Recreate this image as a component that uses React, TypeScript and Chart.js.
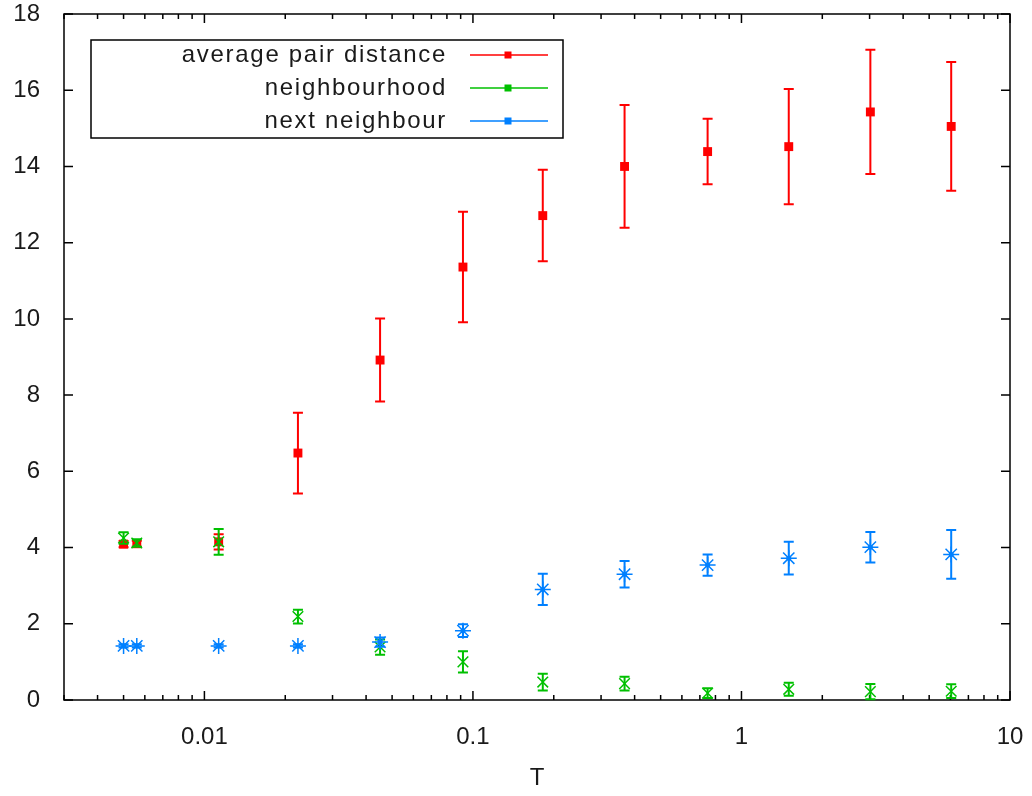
import React, { useEffect, useRef } from 'react';
import { Chart, registerables } from 'chart.js';

Chart.register(...registerables);

// ---- data ----
const T = [0.005, 0.0056, 0.0113, 0.0223, 0.0451, 0.0918, 0.182, 0.367, 0.748, 1.5, 3.02, 6.04];

const avgPair = [4.09, 4.1, 4.15, 6.48, 8.92, 11.36, 12.71, 14.0, 14.39, 14.52, 15.43, 15.05];
const avgPairErr = [0.08, 0.08, 0.2, 1.06, 1.09, 1.45, 1.2, 1.61, 0.86, 1.51, 1.63, 1.69];

const neighbourhood = [4.25, 4.12, 4.15, 2.19, 1.39, 1.0, 0.47, 0.43, 0.18, 0.28, 0.22, 0.23];
const neighbourhoodErr = [0.15, 0.1, 0.34, 0.18, 0.2, 0.28, 0.22, 0.18, 0.13, 0.17, 0.2, 0.18];

const nextNeighbour = [1.42, 1.42, 1.42, 1.42, 1.52, 1.82, 2.9, 3.3, 3.54, 3.72, 4.01, 3.82];
const nextNeighbourErr = [0.04, 0.04, 0.04, 0.04, 0.12, 0.17, 0.41, 0.35, 0.28, 0.43, 0.4, 0.64];

const seriesNames = ['average pair distance', 'neighbourhood', 'next neighbour'];
const seriesColors = ['#ff0000', '#00c000', '#0080ff'];

const xTickValues = [0.01, 0.1, 1, 10];
const xTickLabels = ['0.01', '0.1', '1', '10'];
const xTitle = 'T';

const FONT_FAMILY = 'Liberation Sans';
const FONT_SIZE = 24;

const ERRS = [avgPairErr, neighbourhoodErr, nextNeighbourErr];

export default function App() {
  const ref = useRef<HTMLCanvasElement>(null);

  useEffect(() => {
    if (!ref.current) return;

    const errorBars = {
      id: 'errorBars',
      afterDatasetDraw(chart: any, args: any) {
        const i = args.index;
        const errs = ERRS[i];
        const ds = chart.data.datasets[i];
        const xs = chart.scales.x;
        const ys = chart.scales.y;
        const ctx = chart.ctx;
        ctx.save();
        ctx.strokeStyle = seriesColors[i];
        ctx.fillStyle = seriesColors[i];
        ctx.lineWidth = 2;
        const cap = 5;
        ds.data.forEach((p: any, k: number) => {
          const px = xs.getPixelForValue(p.x);
          const py = ys.getPixelForValue(p.y);
          const y1 = ys.getPixelForValue(p.y - errs[k]);
          const y2 = ys.getPixelForValue(p.y + errs[k]);
          ctx.beginPath();
          ctx.moveTo(px, y1);
          ctx.lineTo(px, y2);
          ctx.moveTo(px - cap, y1);
          ctx.lineTo(px + cap, y1);
          ctx.moveTo(px - cap, y2);
          ctx.lineTo(px + cap, y2);
          ctx.stroke();
          if (i === 2) {
            ctx.beginPath();
            ctx.arc(px, py, 2.5, 0, Math.PI * 2);
            ctx.fill();
          }
        });
        ctx.restore();
      },
    };

    const frame = {
      id: 'frame',
      beforeDatasetsDraw(chart: any) {
        const { ctx, chartArea: a } = chart;
        const xs = chart.scales.x;
        const ys = chart.scales.y;
        ctx.save();
        ctx.strokeStyle = '#000';
        ctx.lineWidth = 1.5;
        ctx.strokeRect(a.left, a.top, a.right - a.left, a.bottom - a.top);
        ctx.beginPath();
        ys.ticks.forEach((t: any) => {
          const py = ys.getPixelForValue(t.value);
          ctx.moveTo(a.left, py);
          ctx.lineTo(a.left + 9, py);
          ctx.moveTo(a.right, py);
          ctx.lineTo(a.right - 9, py);
        });
        for (let e = -3; e <= 1; e++) {
          for (let m = 1; m <= 9; m++) {
            const v = m * Math.pow(10, e);
            if (v < xs.min * 0.999 || v > xs.max * 1.001) continue;
            const px = xs.getPixelForValue(v);
            const len = m === 1 ? 9 : 5;
            ctx.moveTo(px, a.bottom);
            ctx.lineTo(px, a.bottom - len);
            ctx.moveTo(px, a.top);
            ctx.lineTo(px, a.top + len);
          }
        }
        ctx.stroke();
        ctx.restore();
      },
    };

    const legendBox = {
      id: 'legendBox',
      afterDraw(chart: any) {
        const ctx = chart.ctx;
        const a = chart.chartArea;
        const left = a.left + 27;
        const top = a.top + 26;
        const w = 472;
        const h = 98;
        ctx.save();
        ctx.fillStyle = '#fff';
        ctx.fillRect(left, top, w, h);
        ctx.strokeStyle = '#000';
        ctx.lineWidth = 1.5;
        ctx.strokeRect(left, top, w, h);
        ctx.font = `${FONT_SIZE}px "${FONT_FAMILY}"`;
        (ctx as any).letterSpacing = '1.7px';
        ctx.textAlign = 'right';
        ctx.textBaseline = 'middle';
        seriesNames.forEach((name, i) => {
          const cy = top + 15 + i * 33;
          ctx.fillStyle = '#1a1a1a';
          ctx.fillText(name, left + 356, cy);
          ctx.strokeStyle = seriesColors[i];
          ctx.lineWidth = 1.5;
          ctx.beginPath();
          ctx.moveTo(left + 379, cy);
          ctx.lineTo(left + 457, cy);
          ctx.stroke();
          ctx.fillStyle = seriesColors[i];
          ctx.fillRect(left + 417 - 3.5, cy - 3.5, 7, 7);
        });
        ctx.restore();
      },
    };

    const mk = (vals: number[]) => vals.map((v, k) => ({ x: T[k], y: v }));

    const chart = new Chart(ref.current, {
      type: 'scatter',
      data: {
        datasets: [
          {
            label: seriesNames[0],
            data: mk(avgPair),
            pointStyle: 'rect',
            pointRadius: 6.3,
            backgroundColor: seriesColors[0],
            borderColor: seriesColors[0],
            borderWidth: 0,
            showLine: false,
            order: 3,
          },
          {
            label: seriesNames[1],
            data: mk(neighbourhood),
            pointStyle: 'crossRot',
            pointRadius: 7.5,
            backgroundColor: seriesColors[1],
            borderColor: seriesColors[1],
            borderWidth: 1.5,
            showLine: false,
            order: 2,
          },
          {
            label: seriesNames[2],
            data: mk(nextNeighbour),
            pointStyle: 'star',
            pointRadius: 8,
            backgroundColor: seriesColors[2],
            borderColor: seriesColors[2],
            borderWidth: 1.5,
            showLine: false,
            order: 1,
          },
        ] as any,
      },
      options: {
        animation: false,
        responsive: true,
        maintainAspectRatio: false,
        layout: { padding: { left: 0, right: 22, top: 14, bottom: 0 } },
        plugins: { legend: { display: false }, tooltip: { enabled: false } },
        scales: {
          x: {
            type: 'logarithmic',
            min: 0.003,
            max: 10,
            grid: { display: false, drawTicks: false },
            border: { display: false },
            ticks: {
              autoSkip: false,
              maxRotation: 0,
              padding: 23,
              color: '#1a1a1a',
              font: { family: FONT_FAMILY, size: FONT_SIZE },
              callback: (v: any) => {
                const idx = xTickValues.findIndex((t) => Math.abs(Math.log10(t) - Math.log10(Number(v))) < 1e-6);
                return idx >= 0 ? xTickLabels[idx] : '';
              },
            },
            title: {
              display: true,
              text: xTitle,
              color: '#1a1a1a',
              font: { family: FONT_FAMILY, size: FONT_SIZE },
              padding: { top: 0, bottom: 3 },
            },
            afterFit: (s: any) => {
              s.height = 96;
              s.paddingLeft = 0;
              s.paddingRight = 0;
            },
          } as any,
          y: {
            min: 0,
            max: 18,
            grid: { display: false, drawTicks: false },
            border: { display: false },
            ticks: {
              stepSize: 2,
              padding: 24,
              color: '#1a1a1a',
              font: { family: FONT_FAMILY, size: FONT_SIZE },
              callback: (v: any) => String(v),
            },
            afterFit: (s: any) => {
              s.width = 64;
              s.paddingTop = 0;
              s.paddingBottom = 0;
            },
          } as any,
        },
      },
      plugins: [errorBars, frame, legendBox],
    });

    return () => chart.destroy();
  }, []);

  return (
    <div style={{ position: 'absolute', left: 0, top: 0, width: 1032, height: 796, background: '#fff' }}>
      <canvas ref={ref} />
    </div>
  );
}
